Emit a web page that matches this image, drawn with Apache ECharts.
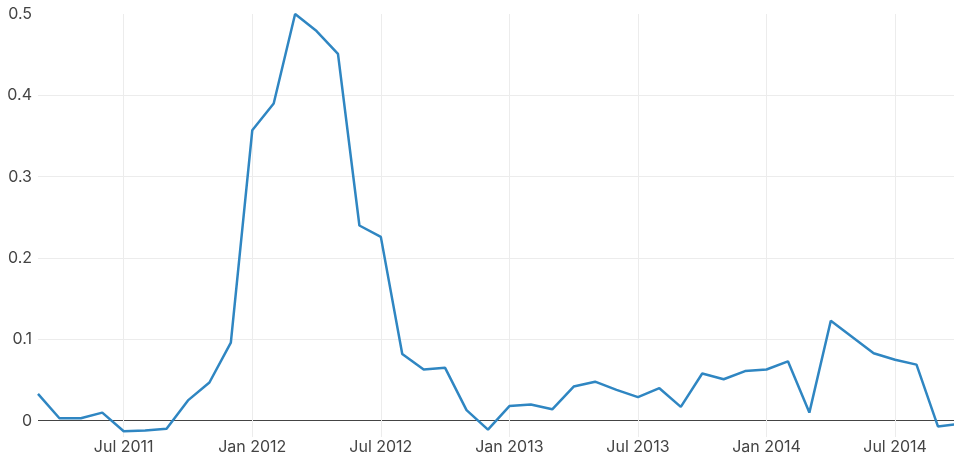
<!DOCTYPE html>
<html>
<head>
<meta charset="utf-8">
<script src="https://cdn.jsdelivr.net/npm/echarts@6/dist/echarts.min.js"></script>
<style>
  html,body{margin:0;padding:0;background:#fff;}
  #chartBox{width:954px;height:455px;}
</style>
</head>
<body>
<div id="chartBox"></div>
<script>
// monthly values, Mar 2011 - Oct 2014
var months = [
  '2011-03','2011-04','2011-05','2011-06','2011-07','2011-08','2011-09','2011-10','2011-11','2011-12',
  '2012-01','2012-02','2012-03','2012-04','2012-05','2012-06','2012-07','2012-08','2012-09','2012-10','2012-11','2012-12',
  '2013-01','2013-02','2013-03','2013-04','2013-05','2013-06','2013-07','2013-08','2013-09','2013-10','2013-11','2013-12',
  '2014-01','2014-02','2014-03','2014-04','2014-05','2014-06','2014-07','2014-08','2014-09','2014-10'
];
var values = [
  0.033,0.003,0.003,0.010,-0.013,-0.012,-0.010,0.025,0.047,0.096,
  0.357,0.390,0.500,0.479,0.451,0.240,0.226,0.082,0.063,0.065,0.013,-0.011,
  0.018,0.020,0.014,0.042,0.048,0.038,0.029,0.040,0.017,0.058,0.051,0.061,
  0.063,0.073,0.010,0.123,0.103,0.083,0.075,0.069,-0.007,-0.004
];
var tickMonths = ['2011-07','2012-01','2012-07','2013-01','2013-07','2014-01','2014-07'];
var tickLabels = ['Jul 2011','Jan 2012','Jul 2012','Jan 2013','Jul 2013','Jan 2014','Jul 2014'];
var yTicks = [0,0.1,0.2,0.3,0.4,0.5];

// months counted from Jan 2011
function monthIndex(s){
  var p = s.split('-');
  return (+p[0] - 2011) * 12 + (+p[1] - 1);
}
var tickPos = tickMonths.map(monthIndex);
var seriesData = months.map(function(m,i){ return [monthIndex(m), values[i]]; });

var option = {
  animation:false,
  grid:{left:38,right:0,top:14,bottom:18,outerBoundsMode:'none',containLabel:false},
  xAxis:{
    type:'value',
    min:monthIndex('2011-03'),
    max:44.75,
    axisLine:{show:false,onZero:false},
    axisTick:{show:false,customValues:tickPos},
    axisLabel:{
      customValues:tickPos,
      color:'#444',
      fontSize:16,
      fontFamily:'Inter',
      margin:2,
      formatter:function(v){
        var i = tickPos.indexOf(Math.round(v));
        return i >= 0 ? tickLabels[i] : '';
      }
    },
    splitLine:{show:true,lineStyle:{color:'#ececec',width:1}}
  },
  yAxis:{
    type:'value',
    min:-0.02,
    max:0.5,
    axisLine:{show:false},
    axisTick:{show:false,customValues:yTicks},
    axisLabel:{
      customValues:yTicks,
      color:'#444',
      fontSize:16,
      fontFamily:'Inter',
      margin:6,
      formatter:function(v){ return String(+v.toFixed(1)); }
    },
    // zero line dark, top line hidden
    splitLine:{lineStyle:{color:['#444','#ececec','#ececec','#ececec','#ececec','rgba(0,0,0,0)']}}
  },
  series:[{
    type:'line',
    data:seriesData,
    showSymbol:false,
    lineStyle:{color:'#2f86c2',width:2.5},
    itemStyle:{color:'#2f86c2'}
  }]
};

var myChart = echarts.init(document.getElementById('chartBox'));
myChart.setOption(option);
</script>
</body>
</html>
